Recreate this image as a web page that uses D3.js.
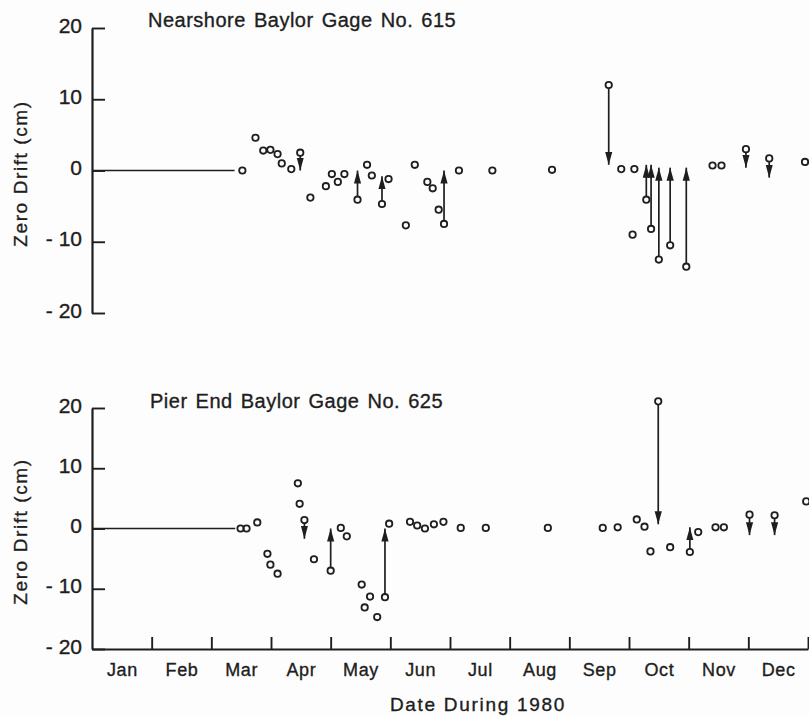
<!DOCTYPE html>
<html>
<head>
<meta charset="utf-8">
<script src="https://cdn.jsdelivr.net/npm/d3@7"></script>
<style>
  body { margin: 0; background: #fdfdfd; }
  svg { display: block; font-family: "Liberation Sans", Arial, sans-serif; }
  svg text { stroke: #1e1e1e; stroke-width: 0.35; }
  .domain { stroke: #1e1e1e; stroke-width: 2.2; }
  .tick line { stroke: #1e1e1e; stroke-width: 1.9; }
  .tick text { fill: #1e1e1e; }
</style>
</head>
<body>
<div id="chart"></div>
<script>
// x values are in months from Jan 1 (0) to Dec 31 (12), equal month widths as in the original figure
var monthNames = ["Jan", "Feb", "Mar", "Apr", "May", "Jun", "Jul", "Aug", "Sep", "Oct", "Nov", "Dec"];
var driftTicks = [20, 10, 0, -10, -20];

// Nearshore gage 615
var g615Month = [2.52, 2.74, 2.87, 2.99, 3.11, 3.18, 3.34, 3.49, 3.66, 3.92, 4.02, 4.12, 4.23, 4.45,
  4.61, 4.69, 4.86, 4.97, 5.26, 5.41, 5.62, 5.71, 5.81, 5.90, 6.15, 6.71, 7.71, 8.66, 8.87, 9.09,
  9.06, 9.29, 9.37, 9.50, 9.69, 9.96, 10.40, 10.55, 10.96, 11.35, 11.95];
var g615Drift = [0, 4.6, 2.8, 2.9, 2.3, 1.0, 0.2, 2.5, -3.8, -2.2, -0.5, -1.6, -0.5, -4.1,
  0.8, -0.7, -4.7, -1.2, -7.7, 0.8, -1.6, -2.5, -5.5, -7.5, 0, 0, 0.1, 12.0, 0.2, 0.2,
  -9.0, -4.1, -8.2, -12.5, -10.5, -13.5, 0.7, 0.7, 3.0, 1.7, 1.2];
// where the arrow from a reading points to (null = no arrow)
var g615Reset = [null, null, null, null, null, null, null, 0, null, null, null, null, null, 0,
  null, null, -0.8, null, null, null, null, null, null, 0, null, null, null, 0.8, null, null,
  null, 0.8, 0.8, 0.4, 0.4, 0.4, null, null, 0.4, -1.0, null];

// Pier end gage 625
var g625Month = [2.49, 2.59, 2.77, 2.94, 2.99, 3.11, 3.45, 3.48, 3.56, 3.72, 4.00, 4.17, 4.27, 4.52,
  4.57, 4.66, 4.78, 4.91, 4.98, 5.33, 5.45, 5.58, 5.73, 5.89, 6.18, 6.60, 7.64, 8.56, 8.81, 9.13,
  9.26, 9.36, 9.49, 9.69, 10.02, 10.16, 10.45, 10.59, 11.02, 11.44, 11.97];
var g625Drift = [0, 0, 1.0, -4.2, -6.0, -7.5, 7.5, 4.1, 1.4, -5.1, -7.0, 0.1, -1.3, -9.3,
  -13.1, -11.3, -14.7, -11.4, 0.8, 1.1, 0.5, 0, 0.7, 1.1, 0.1, 0.1, 0.1, 0.1, 0.2, 1.5,
  0.3, -3.8, 21.1, -3.1, -3.9, -0.6, 0.2, 0.2, 2.3, 2.2, 4.5];
var g625Reset = [null, null, null, null, null, null, null, null, -1.7, null, 0, null, null, null,
  null, null, null, 0, null, null, null, null, null, null, null, null, null, null, null, null,
  null, null, 0.7, null, 0.2, null, null, null, -1.1, -1.1, null];

// zero line drawn from Jan 1 up to the first reading
var zeroLineEnd = [2.39, 2.40];

var width = 809;
var height = 716;
var r = 3.2;

var svg = d3.select("#chart")
  .append("svg")
  .attr("width", width)
  .attr("height", height);

svg.append("defs").append("marker")
  .attr("id", "head")
  .attr("viewBox", "0 -4 13 8")
  .attr("refX", 13)
  .attr("refY", 0)
  .attr("markerUnits", "userSpaceOnUse")
  .attr("markerWidth", 13)
  .attr("markerHeight", 8)
  .attr("orient", "auto")
  .append("path")
  .attr("d", "M0,-3.6L13,0L0,3.6Z")
  .attr("fill", "#1e1e1e");

var x = d3.scaleLinear().domain([0, 12]).range([92, 808]);

function drawPanel(opts) {
  var y = d3.scaleLinear().domain([-20, 20]).range([opts.bottom, opts.top]);
  var g = svg.append("g");

  g.append("g")
    .attr("transform", "translate(" + x(0) + ",0)")
    .call(d3.axisLeft(y)
      .tickValues(driftTicks)
      .tickSizeInner(-13)
      .tickSizeOuter(0)
      .tickPadding(10)
      .tickFormat(function(d) { return d < 0 ? "- " + (-d) : d; }))
    .call(function(a) {
      a.selectAll("text").attr("font-size", 21).attr("dy", "0.2em");
    });

  // zero line
  g.append("line")
    .attr("x1", x(0)).attr("x2", x(opts.lineEnd))
    .attr("y1", y(0)).attr("y2", y(0))
    .attr("stroke", "#1e1e1e")
    .attr("stroke-width", 1.4);

  var pts = opts.months.map(function(m, i) {
    return { m: m, v: opts.drift[i], to: opts.reset[i] };
  });

  g.selectAll(".arrow")
    .data(pts.filter(function(d) { return d.to !== null; }))
    .enter().append("line")
    .attr("class", "arrow")
    .attr("x1", function(d) { return x(d.m); })
    .attr("x2", function(d) { return x(d.m); })
    .attr("y1", function(d) { return y(d.v) + (d.to > d.v ? -r : r); })
    .attr("y2", function(d) { return y(d.to); })
    .attr("stroke", "#1e1e1e")
    .attr("stroke-width", 1.7)
    .attr("marker-end", "url(#head)");

  g.selectAll("circle")
    .data(pts)
    .enter().append("circle")
    .attr("cx", function(d) { return x(d.m); })
    .attr("cy", function(d) { return y(d.v); })
    .attr("r", r)
    .attr("fill", "none")
    .attr("stroke", "#1e1e1e")
    .attr("stroke-width", 1.8);

  g.append("text")
    .attr("x", opts.titleX)
    .attr("y", opts.titleY)
    .attr("font-size", 20)
    .attr("letter-spacing", 0.5)
    .attr("word-spacing", 2)
    .attr("fill", "#1e1e1e")
    .text(opts.title);

  g.append("text")
    .attr("transform", "translate(20," + ((opts.top + opts.bottom) / 2 + 3) + ") rotate(-90)")
    .attr("text-anchor", "middle")
    .attr("dominant-baseline", "central")
    .attr("font-size", 19)
    .attr("letter-spacing", 1.6)
    .attr("fill", "#1e1e1e")
    .text("Zero Drift (cm)");

  return y;
}

drawPanel({
  top: 28, bottom: 313, lineEnd: zeroLineEnd[0],
  months: g615Month, drift: g615Drift, reset: g615Reset,
  title: "Nearshore Baylor Gage No. 615", titleX: 148, titleY: 27
});

var yBottom = drawPanel({
  top: 408, bottom: 649, lineEnd: zeroLineEnd[1],
  months: g625Month, drift: g625Drift, reset: g625Reset,
  title: "Pier End Baylor Gage No. 625", titleX: 150, titleY: 408
});

// month boundary ticks
svg.append("g")
  .attr("transform", "translate(0," + yBottom(-20) + ")")
  .call(d3.axisBottom(x)
    .tickValues(d3.range(1, 13))
    .tickSizeInner(-12)
    .tickSizeOuter(0)
    .tickFormat(""));

// month names centred in each month
svg.append("g")
  .attr("transform", "translate(0," + yBottom(-20) + ")")
  .call(d3.axisBottom(x)
    .tickValues(d3.range(0.5, 12, 1))
    .tickSize(0)
    .tickPadding(14)
    .tickFormat(function(d) { return monthNames[Math.floor(d)]; }))
  .call(function(a) {
    a.select(".domain").remove();
    a.selectAll("text").attr("font-size", 18).attr("letter-spacing", 0.6);
  });

svg.append("text")
  .attr("x", 478)
  .attr("y", 711)
  .attr("text-anchor", "middle")
  .attr("font-size", 19)
  .attr("letter-spacing", 1.7)
  .attr("fill", "#1e1e1e")
  .text("Date During 1980");
</script>
</body>
</html>
